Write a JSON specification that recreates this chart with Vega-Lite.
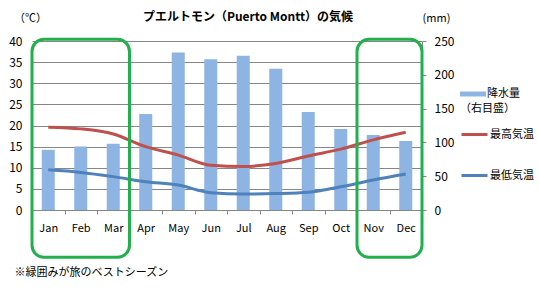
{
  "$schema": "https://vega.github.io/schema/vega-lite/v6.json",
  "width": 390,
  "height": 169,
  "autosize": {"type": "none"},
  "padding": {"left": 32, "top": 41, "right": 117, "bottom": 85},
  "background": "white",
  "config": {
    "view": {"stroke": null},
    "font": "Noto Sans CJK JP",
    "axis": {"labelColor": "#000", "titleColor": "#000", "labelFont": "Noto Sans CJK JP"},
    "legend": {"labelColor": "#000", "titleColor": "#000", "padding": 0}
  },
  "title": {
    "text": "プエルトモン（Puerto Montt）の気候",
    "fontSize": 12,
    "fontWeight": "bold",
    "color": "#000",
    "anchor": "middle",
    "frame": "group",
    "dx": 21,
    "offset": -12
  },
  "datasets": {
    "climate": [
      {"month": "Jan", "precip": 89, "hi": 19.6, "lo": 9.5},
      {"month": "Feb", "precip": 94, "hi": 19.2, "lo": 8.9},
      {"month": "Mar", "precip": 98, "hi": 18.0, "lo": 7.9},
      {"month": "Apr", "precip": 142, "hi": 15.0, "lo": 6.7},
      {"month": "May", "precip": 233, "hi": 13.0, "lo": 5.9},
      {"month": "Jun", "precip": 223, "hi": 10.6, "lo": 4.1},
      {"month": "Jul", "precip": 228, "hi": 10.3, "lo": 3.8},
      {"month": "Aug", "precip": 209, "hi": 11.0, "lo": 3.9},
      {"month": "Sep", "precip": 145, "hi": 12.8, "lo": 4.2},
      {"month": "Oct", "precip": 120, "hi": 14.4, "lo": 5.5},
      {"month": "Nov", "precip": 111, "hi": 16.6, "lo": 7.1},
      {"month": "Dec", "precip": 102, "hi": 18.4, "lo": 8.5}
    ],
    "boxes": [
      {"start": "Jan", "end": "Mar"},
      {"start": "Nov", "end": "Dec"}
    ]
  },
  "layer": [
    {
      "data": {"name": "climate"},
      "mark": {"type": "bar", "width": {"band": 0.4}},
      "encoding": {
        "x": {
          "field": "month", "type": "nominal",
          "scale": {"domain": ["Jan","Feb","Mar","Apr","May","Jun","Jul","Aug","Sep","Oct","Nov","Dec"], "paddingInner": 0, "paddingOuter": 0},
          "axis": {
            "labelAngle": 0, "labelFontSize": 11, "labelPadding": 8,
            "domainColor": "#868686", "tickColor": "#868686", "tickSize": 4, "tickBand": "extent",
            "title": "※緑囲みが旅のベストシーズン", "titleFontSize": 11, "titleFontWeight": "normal",
            "titleX": -18, "titleY": 62, "titleAlign": "left", "titleBaseline": "middle", "titleAnchor": "start"
          }
        },
        "y": {
          "field": "precip", "type": "quantitative",
          "scale": {"domain": [0, 250]},
          "axis": {
            "orient": "right", "values": [0, 50, 100, 150, 200, 250], "grid": false,
            "domainColor": "#868686", "tickColor": "#868686", "tickSize": 4, "labelPadding": 8, "labelFontSize": 12,
            "title": "(mm)", "titleAngle": 0, "titleFontSize": 11, "titleFontWeight": "normal",
            "titleX": 14, "titleY": -23, "titleAlign": "center", "titleBaseline": "middle"
          }
        },
        "fill": {
          "datum": "降水量",
          "scale": {"range": ["#8DB4E2"]},
          "legend": {
            "orient": "none", "legendX": 428, "legendY": 40, "title": "（右目盛）", "titleOrient": "bottom",
            "titleFontSize": 11, "titleFontWeight": "normal", "titlePadding": 4, "titleAnchor": "start",
            "labelFontSize": 11, "labelOffset": 1,
            "symbolType": "M-1,-0.19H1V0.19H-1Z", "symbolSize": 676, "symbolStrokeWidth": 0
          }
        }
      }
    },
    {
      "data": {"name": "climate"},
      "transform": [{"fold": ["hi", "lo"], "as": ["series", "temp"]}],
      "mark": {"type": "line", "strokeWidth": 3, "interpolate": "monotone"},
      "encoding": {
        "x": {
          "field": "month", "type": "nominal",
          "scale": {"domain": ["Jan","Feb","Mar","Apr","May","Jun","Jul","Aug","Sep","Oct","Nov","Dec"]}
        },
        "y": {
          "field": "temp", "type": "quantitative",
          "scale": {"domain": [0, 40]},
          "axis": {
            "orient": "left", "values": [0, 5, 10, 15, 20, 25, 30, 35, 40],
            "grid": true, "gridColor": "#868686", "domain": false, "ticks": false,
            "labelPadding": 10, "labelFontSize": 12,
            "title": "（℃）", "titleAngle": 0, "titleFontSize": 11, "titleFontWeight": "normal",
            "titleX": -2, "titleY": -23, "titleAlign": "center", "titleBaseline": "middle"
          }
        },
        "stroke": {
          "field": "series", "type": "nominal",
          "scale": {"domain": ["hi", "lo"], "range": ["#C0504D", "#4F81BD"]},
          "legend": {
            "orient": "none", "legendX": 428, "legendY": 79, "title": null,
            "labelExpr": "datum.label == 'hi' ? '最高気温' : '最低気温'",
            "labelFontSize": 11, "labelOffset": 1, "rowPadding": 20,
            "symbolType": "stroke", "symbolSize": 676, "symbolStrokeWidth": 3
          }
        }
      }
    },
    {
      "data": {"name": "boxes"},
      "mark": {"type": "rect", "fill": null, "stroke": "#21B04B", "strokeWidth": 3, "cornerRadius": 12},
      "encoding": {
        "x": {
          "field": "start", "type": "nominal", "bandPosition": 0,
          "scale": {"domain": ["Jan","Feb","Mar","Apr","May","Jun","Jul","Aug","Sep","Oct","Nov","Dec"]}
        },
        "x2": {"field": "end", "bandPosition": 1},
        "y": {"datum": 40.4, "type": "quantitative", "scale": {"domain": [0, 40]}, "axis": null},
        "y2": {"datum": -11.2}
      }
    }
  ],
  "resolve": {"scale": {"y": "independent"}}
}
